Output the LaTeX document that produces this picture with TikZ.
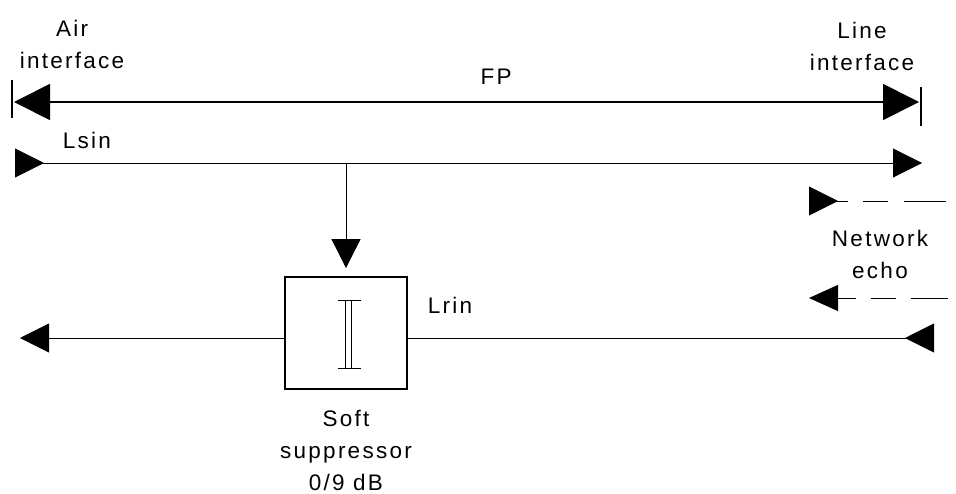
\documentclass[tikz,border=0pt]{standalone}
\usepackage{fontspec}
\setmainfont{Liberation Sans}[LetterSpace=10]
\usetikzlibrary{positioning,arrows.meta}

\begin{document}
\begin{tikzpicture}[x=1pt,y=-1pt,font=\fontsize{22.5}{32}\selectfont]
 \tikzset{thinline/.style={line width=0.8pt},
  thickline/.style={line width=1.8pt},
  lbl/.style={align=center,inner sep=0pt},
  Big/.tip={Triangle[length=36pt,width=36pt]},
  Small/.tip={Triangle[length=29pt,width=29pt]}}
 \useasboundingbox (0,0) rectangle (956,493);

 % labels
 \node[lbl] (air) at (72,44) {Air\\interface};
 \node[lbl] (line) at (862,46) {Line\\interface};
 \node[lbl] (fp) at (496,77) {FP};
 \node[lbl] (lsin) at (87,140) {Lsin};
 \node[lbl] (lrin) at (450,305) {Lrin};
 \node[lbl] (echo) at (880,254) {Network\\echo};
 \node[lbl] (soft) at (346,450) {Soft\\suppressor\\0/9 dB};

 % suppressor
 \node[draw,thickline,minimum width=122pt,minimum height=112pt,inner sep=0pt] (supp) at (346,333) {};
 \draw[thinline] (345,300) -- (345,368) (351,300) -- (351,368)
  (338,300) -- (361,300) (338,368) -- (361,368);

 % FP span
 \coordinate (fpL) at (14,102);
 \coordinate (fpR) at (919,102);
 \draw[thickline,{Big}-{Big}] (fpL) -- (fpR);
 \draw[thickline] (12,80) -- (12,118) (921,87) -- (921,126);

 % send path
 \coordinate (sL) at (15,163);
 \coordinate (sR) at (922,163);
 \coordinate (tap) at (346,163);
 \draw[thinline,{Small[reversed]}-{Small}] (sL) -- (sR);
 \draw[thinline,-{Small}, shorten >=8pt] (tap) -- (supp.north);

 % receive path
 \coordinate (rL) at (20,338);
 \coordinate (rR) at (934,338);
 \draw[thinline,{Small}-] (rL) -- (supp.west |- rL);
 \draw[thinline,-{Small[reversed]}] (supp.east |- rR) -- (rR);

 % network echo
 \coordinate (eA) at (809,201);
 \coordinate (eB) at (946,201);
 \draw[thinline,dash pattern=on 42pt off 16pt on 25pt off 15pt,-{Small[reversed]}] (eB) -- (eA);
 \coordinate (fA) at (948,298);
 \coordinate (fB) at (809,298);
 \draw[thinline,dash pattern=on 37pt off 15pt on 25pt off 15pt,-{Small[width=26pt]}] (fA) -- (fB);
\end{tikzpicture}
\end{document}
